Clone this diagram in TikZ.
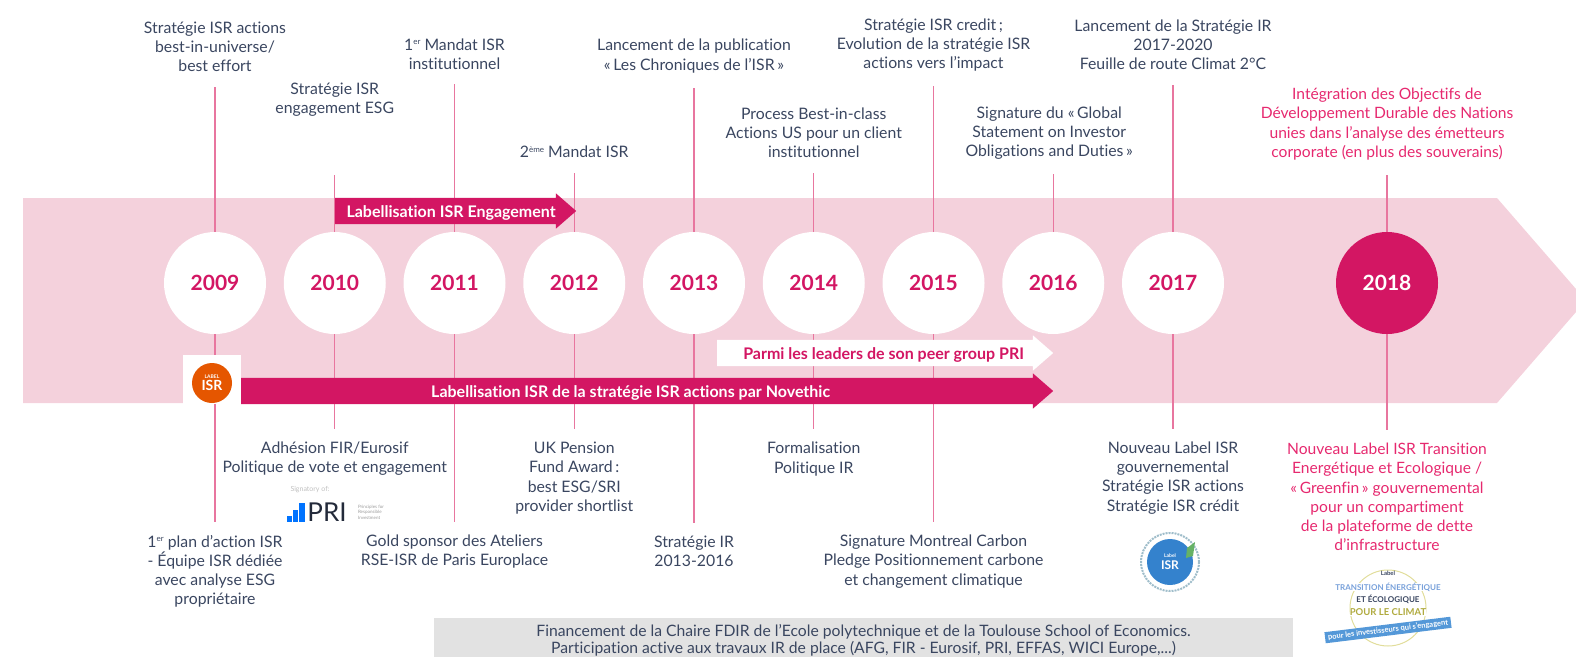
\documentclass[tikz,border=0pt]{standalone}
\usepackage{fontspec}
\setmainfont[Ligatures=NoCommon]{Lato}
\usepackage{tikz}
\usetikzlibrary{shapes,arrows,positioning,calc}
\definecolor{bandpink}{HTML}{F4D1DC}
\definecolor{deeppink}{HTML}{D31663}
\definecolor{brightpink}{HTML}{E6296F}
\definecolor{stempink}{HTML}{E8769F}
\definecolor{inkblue}{HTML}{3A4660}
\definecolor{boxgrey}{HTML}{E2E2E2}
\newcommand{\notefont}{\fontsize{15.8}{19.2}\selectfont}
\newcommand{\raised}[1]{\raisebox{5.5pt}{\fontsize{8}{8}\selectfont #1}}
\tikzset{
year/.style = {circle, fill=white, text=deeppink, inner sep=0pt, minimum size=102pt, font=\fontsize{21}{24}\selectfont\bfseries},
note/.style = {align=center, text=inkblue, inner sep=0pt, outer ysep=15pt, font=\notefont},
lownote/.style = {note, outer ysep=13pt},
newnote/.style = {note, text=brightpink, font=\fontsize{15.6}{19.2}\selectfont},
stem/.style = {draw=stempink, line width=1.3pt},
longarrow/.style = {single arrow, anchor=tail, inner xsep=0pt, inner ysep=0pt, text height=19.5pt, text depth=6.5pt, single arrow head extend=4.5pt, single arrow tip angle=82, font=\fontsize{16}{18}\selectfont\bfseries},
tiny/.style = {inner sep=0pt, align=center, font=\fontsize{5}{6}\selectfont},
}
\begin{document}
\begin{tikzpicture}[x=1pt, y=1pt, node distance=119.75pt]
      \useasboundingbox (0,0) rectangle (1576,-656);
      % band
      \fill [bandpink] (23,-198) -- (1497,-198) -- (1576,-289) -- (1576,-312) -- (1497,-403) -- (23,-403) -- cycle;
      % years
      \node [year, name=year2009] at (215,-283) {2009};
      \node [year, name=year2010, right of = year2009] {2010};
      \node [year, name=year2011, right of = year2010] {2011};
      \node [year, name=year2012, right of = year2011] {2012};
      \node [year, name=year2013, right of = year2012] {2013};
      \node [year, name=year2014, right of = year2013] {2014};
      \node [year, name=year2015, right of = year2014] {2015};
      \node [year, name=year2016, right of = year2015] {2016};
      \node [year, name=year2017, right of = year2016] {2017};
      \node [year, name=year2018, right of = year2017, node distance=214pt, fill=deeppink, text=white] {2018};
      % upper notes
      \node [note, name=top2009, above of = year2009, node distance=236pt] {Stratégie ISR actions\\best-in-universe/\\best effort};
      \node [note, name=top2010, above of = year2010, node distance=183pt] {Stratégie ISR\\engagement ESG};
      \node [note, name=top2011, above of = year2011, node distance=229pt] {1\raised{er} Mandat ISR\\institutionnel};
      \node [note, name=top2012, above of = year2012, node distance=131pt] {2\raised{ème} Mandat ISR};
      \node [note, name=top2013, above of = year2013, node distance=227pt] {Lancement de la publication\\«\,Les Chroniques de l’ISR\,»};
      \node [note, name=top2014, above of = year2014, node distance=150pt] {Process Best-in-class\\Actions US pour un client\\institutionnel};
      \node [note, name=top2015, above of = year2015, node distance=238pt] {Stratégie ISR credit\,;\\Evolution de la stratégie ISR\\actions vers l’impact};
      \node [note, name=top2016, above of = year2016, node distance=150pt, xshift=-4pt] {Signature du «\,Global\\Statement on Investor\\Obligations and Duties\,»};
      \node [note, name=top2017, above of = year2017, node distance=238.5pt] {Lancement de la Stratégie IR\\2017-2020\\Feuille de route Climat 2°C};
      \node [newnote, name=top2018, above of = year2018, node distance=159pt] {Intégration des Objectifs de\\Développement Durable des Nations\\unies dans l’analyse des émetteurs\\corporate (en plus des souverains)};
      % lower notes
      \node [lownote, name=low2009, below of = year2009, node distance=288.5pt] {1\raised{er} plan d’action ISR\\- Équipe ISR dédiée\\avec analyse ESG\\propriétaire};
      \node [lownote, name=low2010, below of = year2010, node distance=176pt] {Adhésion FIR/Eurosif\\Politique de vote et engagement};
      \node [lownote, name=low2011, below of = year2011, node distance=268.5pt] {Gold sponsor des Ateliers\\RSE-ISR de Paris Europlace};
      \node [lownote, name=low2012, below of = year2012, node distance=195pt] {UK Pension\\Fund Award\,:\\best ESG/SRI\\provider shortlist};
      \node [lownote, name=low2013, below of = year2013, node distance=268pt] {Stratégie IR\\2013-2016};
      \node [lownote, name=low2014, below of = year2014, node distance=176pt] {Formalisation\\Politique IR};
      \node [lownote, name=low2015, below of = year2015, node distance=278.5pt] {Signature Montreal Carbon\\Pledge Positionnement carbone\\et changement climatique};
      \node [lownote, name=low2017, below of = year2017, node distance=195pt] {Nouveau Label ISR\\gouvernemental\\Stratégie ISR actions\\Stratégie ISR crédit};
      \node [newnote, outer ysep=13pt, name=low2018, below of = year2018, node distance=214pt] {Nouveau Label ISR Transition\\Energétique et Ecologique /\\«\,Greenfin\,» gouvernemental\\pour un compartiment\\de la plateforme de dette\\d’infrastructure};
      % stems
      \coordinate (end2010) at ($(year2010)+(0,108)$);
      \draw [stem] (year2009) -- (top2009);
      \draw [stem] (year2010) -- (end2010);
      \draw [stem] (year2011) -- (top2011);
      \draw [stem] (year2012) -- (top2012);
      \draw [stem] (year2013) -- (top2013);
      \draw [stem] (year2014) -- (top2014);
      \draw [stem] (year2015) -- (top2015);
      \draw [stem] (year2016) -- (year2016 |- top2016.south);
      \draw [stem] (year2017) -- (top2017);
      \draw [stem] (year2018) -- (top2018);
      \draw [stem] (year2009) -- (low2009);
      \draw [stem] (year2010) -- (low2010);
      \draw [stem] (year2011) -- (low2011);
      \draw [stem] (year2012) -- (low2012);
      \draw [stem] (year2013) -- (low2013);
      \draw [stem] (year2014) -- (low2014);
      \draw [stem] (year2015) -- (low2015);
      \draw [stem] (year2017) -- (low2017);
      \draw [stem] (year2018) -- (low2018);
      % arrows
      \node [longarrow, fill=deeppink, text=white, minimum height=241pt, name=engagement] at (335,-211) {\hspace*{6pt}Labellisation ISR Engagement};
      \node [longarrow, fill=white, text=deeppink, minimum height=336pt, name=leaders] at (717,-353) {\hspace*{12pt}Parmi les leaders de son peer group PRI};
      \node [longarrow, fill=deeppink, text=white, minimum height=812pt, name=novethic] at (241,-391) {Labellisation ISR de la stratégie ISR actions par Novethic\hspace*{18pt}};
      % label ISR logo
      \node [fill=white, minimum width=58pt, minimum height=49pt, inner sep=0pt, name=logoback] at (212,-379.5) {};
      \node [circle, fill=orange!75!red!90!black, text=white, minimum size=40pt, inner sep=0pt, align=center, font=\fontsize{14}{12}\selectfont\bfseries, name=logoisr] at (212,-383) {\fontsize{5}{6}\selectfont LABEL\\ISR};
      % signatory logo
      \node [tiny, text=black!25, font=\fontsize{7}{8}\selectfont, name=signatory] at (310,-490) {Signatory of:};
      \node [inner sep=0pt, text=inkblue!60!black, font=\fontsize{26}{26}\selectfont, name=pri] at (327,-512) {PRI};
      \node [tiny, text=black!40, font=\fontsize{4.5}{5.5}\selectfont, align=left, name=principles, right of = pri, node distance=44pt] {Principles for\\Responsible\\Investment};
      \fill [blue!55!cyan] (287,-522) rectangle (292,-516);
      \fill [blue!55!cyan] (293,-522) rectangle (298,-510);
      \fill [blue!55!cyan] (299,-522) rectangle (305,-503);
      % blue label
      \node [circle, fill=cyan!55!blue!85, text=white, minimum size=46pt, inner sep=0pt, font=\fontsize{12}{12}\selectfont\bfseries, align=center, name=logoblue] at (1170,-562) {\fontsize{5}{5}\selectfont Label\\ISR};
      \draw [densely dotted, cyan!50!black!45, line width=2pt] (logoblue) circle (29pt);
      \fill [green!50!black!60] (1187,-548) -- (1195,-542) -- (1193,-556) -- (1186,-558) -- cycle;
      % green label
      \node [circle, draw=yellow!70!black!45, line width=1pt, minimum size=76pt, name=logoring] at (1388,-608) {};
      \node [tiny, fill=white, text=inkblue, font=\fontsize{6}{7}\selectfont\bfseries, name=logolabel] at (1388,-573) {Label};
      \node [tiny, fill=white, text=cyan!50!blue!55, font=\fontsize{8}{9}\selectfont\bfseries, name=logotrans] at (1388,-587) {TRANSITION ÉNERGÉTIQUE};
      \node [tiny, fill=white, text=inkblue, font=\fontsize{8}{9}\selectfont\bfseries, name=logoeco] at (1388,-599) {ET ÉCOLOGIQUE};
      \node [tiny, fill=white, text=yellow!65!black, font=\fontsize{9.5}{11}\selectfont\bfseries, name=logoclimat] at (1388,-612) {POUR LE CLIMAT};
      \node [tiny, fill=cyan!60!blue!70, text=white, rotate=7, inner xsep=3pt, inner ysep=2pt, font=\fontsize{7.5}{9}\selectfont\bfseries, name=logobanner] at (1388,-630) {pour les investisseurs qui s’engagent};
      % funding box
      \node [fill=boxgrey, align=center, text=inkblue, inner sep=0pt, minimum width=859pt, minimum height=45pt, font=\fontsize{15.7}{16.5}\selectfont, name=funding] at (863.5,-640.5) {Financement de la Chaire FDIR de l’Ecole polytechnique et de la Toulouse School of Economics.\\Participation active aux travaux IR de place (AFG, FIR - Eurosif, PRI, EFFAS, WICI Europe,...)};
\end{tikzpicture}
\end{document}
